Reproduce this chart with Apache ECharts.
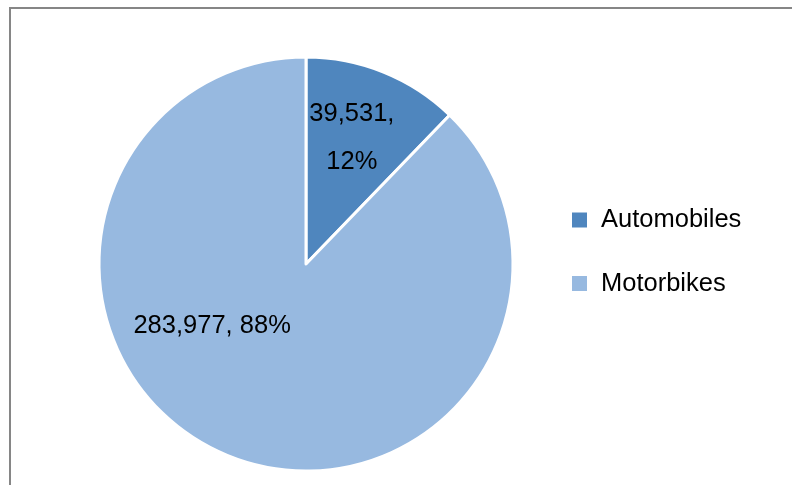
<!DOCTYPE html>
<html>
<head>
<meta charset="utf-8">
<script src="https://cdn.jsdelivr.net/npm/echarts@6/dist/echarts.min.js"></script>
<style>
html,body{margin:0;padding:0;background:#fff;}
#chart{width:792px;height:485px;}
</style>
</head>
<body>
<div id="chart"></div>
<script>
var categories = ['Automobiles', 'Motorbikes'];
var values = [39531, 283977];
var colors = ['#4F86BE', '#97B9E0'];
var labelOffsets = [[6, -27], [-54, -37]];
var labelSeparators = [',\n', ', '];

var chart = echarts.init(document.getElementById('chart'));
var data = categories.map(function (name, i) {
  return {
    name: name,
    value: values[i],
    itemStyle: { color: colors[i] },
    label: { offset: labelOffsets[i] }
  };
});

chart.setOption({
  animation: false,
  backgroundColor: '#ffffff',
  graphic: [{
    type: 'rect',
    shape: { x: 10, y: 8, width: 900, height: 900 },
    style: { fill: 'none', stroke: '#868686', lineWidth: 2 },
    silent: true
  }],
  legend: {
    orient: 'vertical',
    left: 565,
    top: 202,
    itemWidth: 17,
    itemHeight: 17,
    itemGap: 37.5,
    icon: 'rect',
    data: categories,
    textStyle: {
      fontFamily: 'Liberation Sans',
      fontSize: 25.5,
      lineHeight: 25.5,
      color: '#000000',
      padding: [0, 0, 0, 8]
    }
  },
  series: [{
    type: 'pie',
    center: [306, 264],
    radius: 207,
    startAngle: 90,
    clockwise: true,
    itemStyle: { borderColor: '#ffffff', borderWidth: 3 },
    emphasis: { disabled: true },
    label: {
      show: true,
      position: 'inside',
      fontFamily: 'Liberation Sans',
      fontSize: 25.5,
      lineHeight: 48,
      color: '#000000',
      formatter: function (p) {
        return p.value.toLocaleString('en-US') + labelSeparators[p.dataIndex] + Math.round(p.percent) + '%';
      }
    },
    labelLine: { show: false },
    data: data
  }]
});
</script>
</body>
</html>
